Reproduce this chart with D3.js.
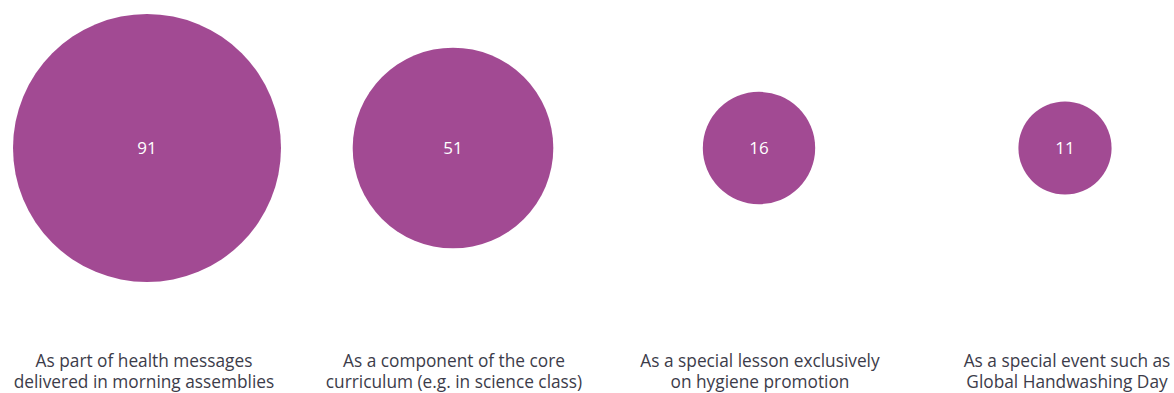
<!DOCTYPE html>
<html>
<head>
<meta charset="utf-8">
<script src="https://cdn.jsdelivr.net/npm/d3@7"></script>
<style>
  html, body { margin: 0; padding: 0; background: #fff; }
  svg { display: block; }
</style>
</head>
<body>
<svg id="chart" width="1174" height="393"></svg>
<script>
// How schools deliver hygiene promotion (number of schools)
const categories = [
  ["As part of health messages", "delivered in morning assemblies"],
  ["As a component of the core", "curriculum (e.g. in science class)"],
  ["As a special lesson exclusively", "on hygiene promotion"],
  ["As a special event such as", "Global Handwashing Day"]
];
const values = [91, 51, 16, 11];

const width = 1174, height = 393;
const svg = d3.select("#chart");

const x = d3.scalePoint()
  .domain(d3.range(values.length))
  .range([147, 1065]);

// bubble area proportional to value
const r = d3.scaleSqrt()
  .domain([0, d3.max(values)])
  .range([0, 134]);

const cy = 148;

const g = svg.selectAll("g.bubble")
  .data(values)
  .join("g")
  .attr("class", "bubble")
  .attr("transform", (d, i) => `translate(${x(i)},${cy})`);

g.append("circle")
  .attr("r", d => r(d))
  .attr("fill", "#a24a93");

g.append("text")
  .attr("text-anchor", "middle")
  .attr("dy", "0.35em")
  .attr("fill", "#ffffff")
  .style("font-family", "'Open Sans', sans-serif")
  .style("font-size", "17px")
  .text(d => d);

const labelX = [144, 454, 760, 1067];
const labels = svg.selectAll("text.cat")
  .data(categories)
  .join("text")
  .attr("class", "cat")
  .attr("text-anchor", "middle")
  .attr("x", (d, i) => labelX[i])
  .attr("y", 367)
  .attr("fill", "#3c3c4a")
  .style("font-family", "'Open Sans', sans-serif")
  .style("font-size", "17.3px");

labels.selectAll("tspan")
  .data(d => d)
  .join("tspan")
  .attr("x", function () { return d3.select(this.parentNode).attr("x"); })
  .attr("dy", (d, i) => i === 0 ? 0 : 21)
  .text(d => d);
</script>
</body>
</html>
